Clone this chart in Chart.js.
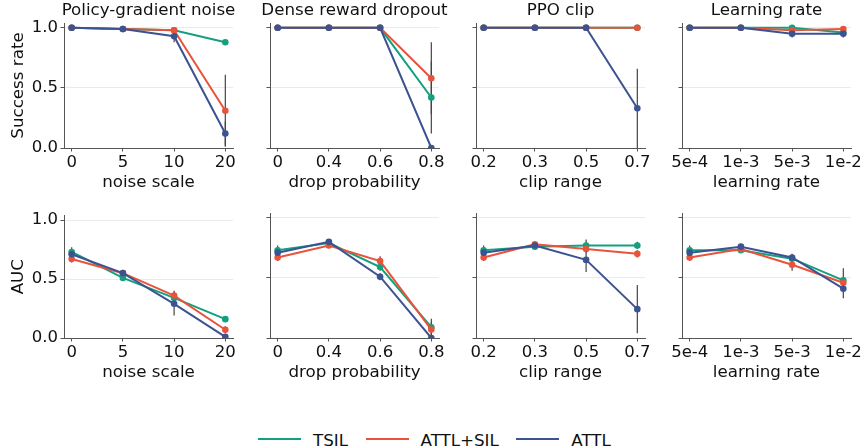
<!DOCTYPE html>
<html>
<head>
<meta charset="utf-8">
<script src="https://cdn.jsdelivr.net/npm/chart.js@4.4.1/dist/chart.umd.min.js"></script>
<style>
  html, body { margin: 0; padding: 0; background: #fff; }
  body { width: 865px; height: 448px; position: relative; overflow: hidden; font-family: 'DejaVu Sans', sans-serif; }
  canvas { position: absolute; }
  #legend { position: absolute; left: 258px; top: 430px; height: 20px; display: flex; align-items: flex-start;
            font-size: 16.7px; line-height: 20px; color: #111; white-space: nowrap; }
  #legend .sw { width: 43px; height: 2px; margin-top: 7.6px; margin-right: 12px; }
  #legend .lbl { margin-right: 17.5px; }
</style>
</head>
<body>
<div id="legend"></div>
<script>
const panelTitles = ['Policy-gradient noise', 'Dense reward dropout', 'PPO clip', 'Learning rate'];
const xAxisTitles = ['noise scale', 'drop probability', 'clip range', 'learning rate'];
const xTickLabels = [
    ['0', '5', '10', '20'],
    ['0', '0.4', '0.6', '0.8'],
    ['0.2', '0.3', '0.5', '0.7'],
    ['5e-4', '1e-3', '5e-3', '1e-2']
];
const rowTitles = ['Success rate', 'AUC'];
const yTicks = [0, 0.5, 1.0];

const seriesNames = ['TSIL', 'ATTL+SIL', 'ATTL'];
const seriesColors = ['#12a07f', '#e8533c', '#3b5391'];

// one inner list per panel (noise, dropout, clip, lr)
const successTSIL    = [[1.00, 0.99, 0.98, 0.88], [1.00, 1.00, 1.00, 0.42], [1.00, 1.00, 1.00, 1.00], [1.00, 1.00, 1.00, 0.96]];
const successATTLSIL = [[1.00, 0.99, 0.98, 0.31], [1.00, 1.00, 1.00, 0.58], [1.00, 1.00, 1.00, 1.00], [1.00, 1.00, 0.98, 0.99]];
const successATTL    = [[1.00, 0.99, 0.93, 0.12], [1.00, 1.00, 1.00, 0.00], [1.00, 1.00, 1.00, 0.33], [1.00, 1.00, 0.95, 0.95]];

const errSuccessTSIL    = [[0, 0, 0.01, 0.02], [0, 0, 0, 0.30], [0, 0, 0, 0], [0, 0, 0.01, 0.02]];
const errSuccessATTLSIL = [[0, 0, 0.01, 0.30], [0, 0, 0, 0.30], [0, 0, 0, 0], [0, 0, 0.02, 0.01]];
const errSuccessATTL    = [[0, 0.01, 0.05, 0.10], [0, 0, 0, 0], [0, 0, 0, 0.33], [0, 0, 0.03, 0.03]];

const aucTSIL    = [[0.73, 0.51, 0.34, 0.16], [0.73, 0.79, 0.59, 0.09], [0.73, 0.76, 0.77, 0.77], [0.73, 0.73, 0.66, 0.48]];
const aucATTLSIL = [[0.67, 0.55, 0.36, 0.07], [0.67, 0.77, 0.64, 0.07], [0.67, 0.78, 0.74, 0.70], [0.67, 0.74, 0.61, 0.46]];
const aucATTL    = [[0.71, 0.55, 0.29, 0.01], [0.71, 0.80, 0.51, 0.00], [0.71, 0.77, 0.65, 0.24], [0.71, 0.76, 0.67, 0.41]];

const errAucTSIL    = [[0.04, 0.02, 0.03, 0.02], [0.04, 0.02, 0.03, 0.07], [0.04, 0.02, 0.05, 0.03], [0.04, 0.02, 0.03, 0.10]];
const errAucATTLSIL = [[0.03, 0.02, 0.04, 0.03], [0.03, 0.02, 0.04, 0.06], [0.03, 0.02, 0.03, 0.03], [0.03, 0.02, 0.05, 0.03]];
const errAucATTL    = [[0.04, 0.02, 0.10, 0.01], [0.03, 0.02, 0.03, 0.01], [0.03, 0.02, 0.10, 0.20], [0.04, 0.02, 0.03, 0.08]];

const rows = [
    { values: [successTSIL, successATTLSIL, successATTL], errors: [errSuccessTSIL, errSuccessATTLSIL, errSuccessATTL] },
    { values: [aucTSIL, aucATTLSIL, aucATTL], errors: [errAucTSIL, errAucATTLSIL, errAucATTL] }
];

// layout
const colLeft = [64, 270, 476, 682];
const plotW = 169;
const axisColor = '#555';
const textColor = '#111';
const fontFamily = "'DejaVu Sans', sans-serif";

Chart.defaults.font.family = fontFamily;
Chart.defaults.color = textColor;

// vertical error bars, drawn under the lines
const errorBars = {
    id: 'errorBars',
    beforeDatasetsDraw(chart) {
        const { ctx, chartArea, scales: { x, y } } = chart;
        ctx.save();
        ctx.beginPath();
        ctx.rect(chartArea.left, chartArea.top, chartArea.right - chartArea.left, chartArea.bottom - chartArea.top);
        ctx.clip();
        ctx.strokeStyle = '#444';
        ctx.lineWidth = 1.2;
        chart.data.datasets.forEach(ds => {
            ds.data.forEach((p, i) => {
                const e = ds.errors[i];
                if (!e) return;
                const px = x.getPixelForValue(p.x);
                ctx.beginPath();
                ctx.moveTo(px, y.getPixelForValue(p.y - e));
                ctx.lineTo(px, y.getPixelForValue(p.y + e));
                ctx.stroke();
            });
        });
        ctx.restore();
    }
};

// panel title centred over the plot area (the built-in title squeezes long text)
const panelTitle = {
    id: 'panelTitle',
    afterDraw(chart, args, opts) {
        if (!opts.text) return;
        const { ctx, chartArea } = chart;
        ctx.save();
        ctx.font = '16.7px ' + fontFamily;
        ctx.fillStyle = textColor;
        ctx.textAlign = 'center';
        ctx.textBaseline = 'middle';
        ctx.fillText(opts.text, (chartArea.left + chartArea.right) / 2, chartArea.top - 12);
        ctx.restore();
    }
};

function makePanel(row, col) {
    const first = col === 0;
    const canvas = document.createElement('canvas');
    const width = first ? 64 + plotW + 14 : 20 + plotW + 14;
    const height = row === 0 ? 192 : 180;
    canvas.width = width;
    canvas.height = height;
    canvas.style.left = (first ? 0 : colLeft[col] - 20) + 'px';
    canvas.style.top = (row === 0 ? 1 : 203) + 'px';
    document.body.appendChild(canvas);

    const labels = xTickLabels[col];
    const datasets = seriesNames.map((name, s) => ({
        label: name,
        data: rows[row].values[s][col].map((v, i) => ({ x: i, y: v })),
        errors: rows[row].errors[s][col],
        borderColor: seriesColors[s],
        backgroundColor: seriesColors[s],
        pointBackgroundColor: seriesColors[s],
        borderWidth: 2,
        pointRadius: 3.3,
        pointHoverRadius: 3.3,
        pointBorderWidth: 0,
        tension: 0,
        order: 2 - s
    }));

    new Chart(canvas, {
        type: 'line',
        data: { datasets },
        options: {
            responsive: false,
            animation: false,
            events: [],
            layout: { padding: { left: first ? 0 : 10, right: 14, top: row === 0 ? 22 : 10, bottom: 0 } },
            plugins: {
                legend: { display: false },
                tooltip: { enabled: false },
                title: { display: false },
                panelTitle: { text: row === 0 ? panelTitles[col] : '' }
            },
            scales: {
                x: {
                    type: 'linear',
                    min: -0.15,
                    max: 3.15,
                    afterBuildTicks: s => { s.ticks = labels.map((_, i) => ({ value: i })); },
                    afterFit: s => { s.height = 45; },
                    ticks: {
                        callback: v => labels[v],
                        font: { size: 16.5 },
                        color: textColor,
                        padding: 1,
                        maxRotation: 0,
                        minRotation: 0,
                        autoSkip: false
                    },
                    grid: { drawOnChartArea: false, drawTicks: true, tickLength: 3.5, tickColor: axisColor },
                    border: { color: axisColor, width: 1 },
                    title: { display: true, text: xAxisTitles[col], font: { size: 16.7 }, color: textColor, padding: 0 }
                },
                y: {
                    min: 0,
                    max: 1.04,
                    afterBuildTicks: s => { s.ticks = yTicks.map(v => ({ value: v })); },
                    afterFit: s => { s.width = first ? 64 : 10; },
                    ticks: {
                        display: first,
                        callback: v => v.toFixed(1),
                        font: { size: 16.5 },
                        color: textColor,
                        padding: 2.5
                    },
                    grid: {
                        color: c => (c.tick && c.tick.value === 0) ? 'rgba(0,0,0,0)' : '#ebebeb',
                        tickColor: axisColor,
                        tickLength: 3.5,
                        drawTicks: true
                    },
                    border: { color: axisColor, width: 1 },
                    title: {
                        display: first,
                        text: rowTitles[row],
                        font: { size: 16.7 },
                        color: textColor,
                        padding: { top: 8.5, bottom: 0 }
                    }
                }
            }
        },
        plugins: [errorBars, panelTitle]
    });
}

for (let r = 0; r < 2; r++) {
    for (let c = 0; c < 4; c++) {
        makePanel(r, c);
    }
}

// legend below the grid
const legend = document.getElementById('legend');
seriesNames.forEach((name, s) => {
    const sw = document.createElement('span');
    sw.className = 'sw';
    sw.style.background = seriesColors[s];
    const lbl = document.createElement('span');
    lbl.className = 'lbl';
    lbl.textContent = name;
    legend.appendChild(sw);
    legend.appendChild(lbl);
});
</script>
</body>
</html>
